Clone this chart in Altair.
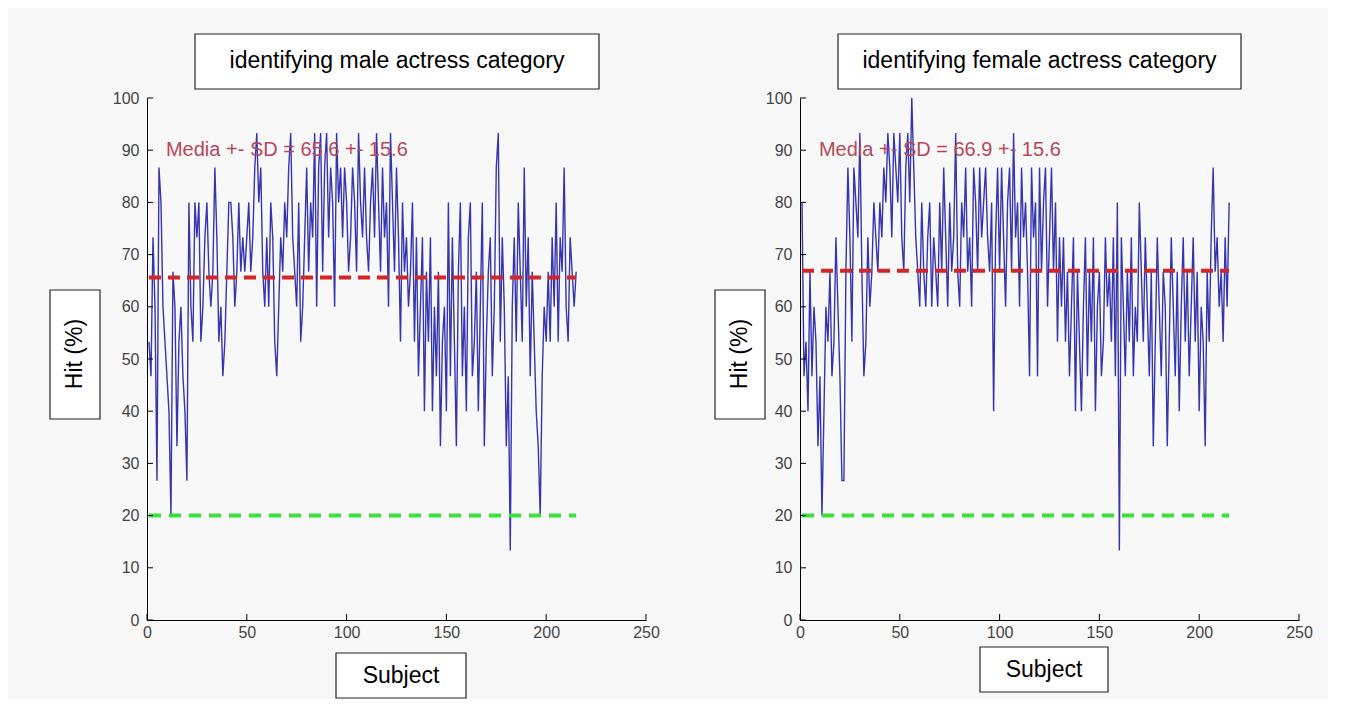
import altair as alt
import pandas as pd

# ---------------- data ----------------
male_hits = [
    53.3, 46.7, 73.3, 60, 26.7, 86.7, 80, 60, 53.3, 46.7,
    40, 20, 66.7, 60, 33.3, 53.3, 60, 46.7, 40, 26.7,
    80, 60, 53.3, 80, 73.3, 80, 53.3, 60, 73.3, 80,
    66.7, 60, 66.7, 86.7, 73.3, 53.3, 60, 46.7, 53.3, 66.7,
    80, 80, 73.3, 60, 66.7, 80, 66.7, 73.3, 66.7, 73.3,
    80, 66.7, 73.3, 86.7, 93.3, 80, 86.7, 66.7, 60, 73.3,
    60, 80, 73.3, 53.3, 46.7, 60, 73.3, 66.7, 80, 73.3,
    86.7, 93.3, 73.3, 66.7, 60, 80, 53.3, 60, 73.3, 86.7,
    66.7, 80, 73.3, 93.3, 60, 86.7, 93.3, 66.7, 86.7, 93.3,
    73.3, 86.7, 80, 60, 93.3, 80, 86.7, 73.3, 86.7, 80,
    66.7, 73.3, 86.7, 80, 66.7, 93.3, 80, 73.3, 86.7, 73.3,
    66.7, 80, 86.7, 73.3, 93.3, 80, 66.7, 86.7, 73.3, 80,
    60, 93.3, 80, 66.7, 86.7, 73.3, 53.3, 80, 66.7, 73.3,
    60, 66.7, 80, 53.3, 73.3, 46.7, 60, 73.3, 40, 66.7,
    53.3, 73.3, 40, 60, 46.7, 66.7, 33.3, 53.3, 60, 40,
    80, 46.7, 73.3, 53.3, 33.3, 66.7, 80, 46.7, 60, 40,
    73.3, 80, 46.7, 53.3, 66.7, 40, 60, 80, 33.3, 53.3,
    66.7, 73.3, 46.7, 60, 86.7, 93.3, 53.3, 73.3, 60, 33.3,
    46.7, 13.3, 60, 73.3, 53.3, 80, 66.7, 53.3, 86.7, 60,
    73.3, 46.7, 66.7, 53.3, 40, 33.3, 20, 46.7, 60, 53.3,
    66.7, 53.3, 73.3, 60, 80, 53.3, 73.3, 66.7, 86.7, 60,
    53.3, 73.3, 66.7, 60, 66.7,
]

female_hits = [
    80, 46.7, 53.3, 40, 66.7, 46.7, 60, 53.3, 33.3, 46.7,
    20, 40, 60, 53.3, 66.7, 46.7, 53.3, 73.3, 60, 46.7,
    26.7, 26.7, 66.7, 86.7, 73.3, 53.3, 86.7, 80, 73.3, 93.3,
    66.7, 46.7, 53.3, 73.3, 60, 66.7, 80, 73.3, 66.7, 80,
    73.3, 86.7, 80, 93.3, 86.7, 73.3, 93.3, 86.7, 80, 93.3,
    73.3, 66.7, 86.7, 93.3, 80, 100, 86.7, 73.3, 66.7, 60,
    80, 66.7, 60, 73.3, 80, 60, 73.3, 66.7, 60, 80,
    66.7, 86.7, 73.3, 60, 80, 66.7, 73.3, 93.3, 66.7, 60,
    80, 73.3, 86.7, 66.7, 73.3, 60, 86.7, 80, 66.7, 86.7,
    73.3, 80, 86.7, 73.3, 66.7, 80, 40, 73.3, 86.7, 66.7,
    86.7, 73.3, 60, 80, 86.7, 66.7, 93.3, 73.3, 80, 60,
    86.7, 73.3, 80, 66.7, 46.7, 86.7, 73.3, 80, 46.7, 86.7,
    66.7, 80, 86.7, 60, 73.3, 86.7, 66.7, 80, 53.3, 73.3,
    60, 73.3, 53.3, 66.7, 46.7, 60, 73.3, 40, 66.7, 53.3,
    40, 60, 73.3, 46.7, 66.7, 53.3, 73.3, 40, 60, 66.7,
    46.7, 53.3, 73.3, 60, 66.7, 53.3, 73.3, 46.7, 80, 13.3,
    73.3, 60, 46.7, 66.7, 53.3, 73.3, 46.7, 60, 53.3, 80,
    66.7, 53.3, 73.3, 60, 46.7, 66.7, 33.3, 53.3, 73.3, 60,
    46.7, 66.7, 60, 33.3, 53.3, 73.3, 60, 46.7, 66.7, 40,
    60, 73.3, 53.3, 66.7, 46.7, 60, 73.3, 53.3, 66.7, 40,
    60, 53.3, 33.3, 66.7, 53.3, 73.3, 86.7, 66.7, 73.3, 60,
    66.7, 53.3, 73.3, 60, 80,
]

panel_titles = ["identifying male actress category", "identifying female actress category"]
means = [65.6, 66.9]
sds = [15.6, 15.6]
chance_level = 20
x_ticks = [0, 50, 100, 150, 200, 250]
y_ticks = [0, 10, 20, 30, 40, 50, 60, 70, 80, 90, 100]
y_label = "Hit (%)"
x_label = "Subject"

W, H = 499, 522
LINE_COLOR = "#3535b0"
RED = "#d42626"
GREEN = "#3ce03c"
ANN_COLOR = "#b5485a"
FONT = "Liberation Sans"

xscale = alt.Scale(domain=[0, 250], nice=False)
yscale = alt.Scale(domain=[0, 100], nice=False)


def box(x1, x2, y1, y2):
    return alt.Chart(pd.DataFrame({"a": [0]})).mark_rect(
        fill="white", stroke="#222", strokeWidth=1.2
    ).encode(x=alt.value(x1), x2=alt.value(x2), y=alt.value(y1), y2=alt.value(y2))


def label(txt, x, y, angle=0):
    kw = dict(fontSize=23, font=FONT, color="black", align="center", baseline="middle")
    if angle:
        kw["angle"] = angle
    return alt.Chart(pd.DataFrame({"a": [0]})).mark_text(**kw).encode(
        x=alt.value(x), y=alt.value(y), text=alt.value(txt)
    )


def panel(values, mean, sd, title, geo):
    n = len(values)
    df = pd.DataFrame({"Subject": list(range(1, n + 1)), "Hit": values})
    line = alt.Chart(df).mark_line(color=LINE_COLOR, strokeWidth=1.4).encode(
        x=alt.X("Subject:Q", scale=xscale,
                axis=alt.Axis(values=x_ticks, title=None, ticks=False, grid=False,
                              domainColor="black", labelColor="#444", labelFontSize=16,
                              labelFont=FONT, labelPadding=4, labelFlush=False)),
        y=alt.Y("Hit:Q", scale=yscale,
                axis=alt.Axis(values=y_ticks, title=None, ticks=False, grid=False,
                              domainColor="black", labelColor="#444", labelFontSize=16,
                              labelFont=FONT, labelPadding=8, labelFlush=False)),
    )
    mean_df = pd.DataFrame({"x1": [1], "x2": [n], "y": [mean]})
    mean_rule = alt.Chart(mean_df).mark_rule(
        color=RED, strokeWidth=4, strokeDash=[12, 7]
    ).encode(x=alt.X("x1:Q", scale=xscale), x2="x2:Q", y=alt.Y("y:Q", scale=yscale))
    ch_df = pd.DataFrame({"x1": [1], "x2": [n], "y": [chance_level]})
    ch_rule = alt.Chart(ch_df).mark_rule(
        color=GREEN, strokeWidth=4, strokeDash=[12, 8]
    ).encode(x=alt.X("x1:Q", scale=xscale), x2="x2:Q", y=alt.Y("y:Q", scale=yscale))
    ann_df = pd.DataFrame({"x": [9.5], "y": [90],
                           "t": [f"Media +- SD = {mean} +- {sd}"]})
    ann = alt.Chart(ann_df).mark_text(
        align="left", baseline="middle", fontSize=20, font=FONT, color=ANN_COLOR
    ).encode(x=alt.X("x:Q", scale=xscale), y=alt.Y("y:Q", scale=yscale), text="t:N")
    yt = alt.Chart(pd.DataFrame({"v": y_ticks})).mark_rule(color="black", strokeWidth=1).encode(
        y=alt.Y("v:Q", scale=yscale), x=alt.value(0), x2=alt.value(6))
    xt = alt.Chart(pd.DataFrame({"v": x_ticks})).mark_rule(color="black", strokeWidth=1).encode(
        x=alt.X("v:Q", scale=xscale), y=alt.value(H), y2=alt.value(H - 6))
    tx1, tx2, sx1, sx2, sy1, sy2, lx1, lx2 = geo
    layers = [
        line, mean_rule, ch_rule, ann, yt, xt,
        box(tx1, tx2, -64, -9), label(title, (tx1 + tx2) / 2, -37),
        box(lx1, lx2, 192, 321), label(y_label, (lx1 + lx2) / 2, 256, angle=270),
        box(sx1, sx2, sy1, sy2), label(x_label, (sx1 + sx2) / 2, (sy1 + sy2) / 2),
    ]
    return alt.layer(*layers).properties(width=W, height=H)


left = panel(male_hits, means[0], sds[0], panel_titles[0],
             (48, 452, 189, 319, 555, 600, -97, -47))
right = panel(female_hits, means[1], sds[1], panel_titles[1],
              (38, 441, 180, 308, 549, 594, -85, -35))

chart = alt.hconcat(left, right, spacing=54).properties(
    padding={"left": 41, "top": 25, "right": 15, "bottom": 0},
    background="#f8f8f8",
).configure_view(stroke=None)

chart.save("out.html", embed_options={"renderer": "svg", "actions": False})
